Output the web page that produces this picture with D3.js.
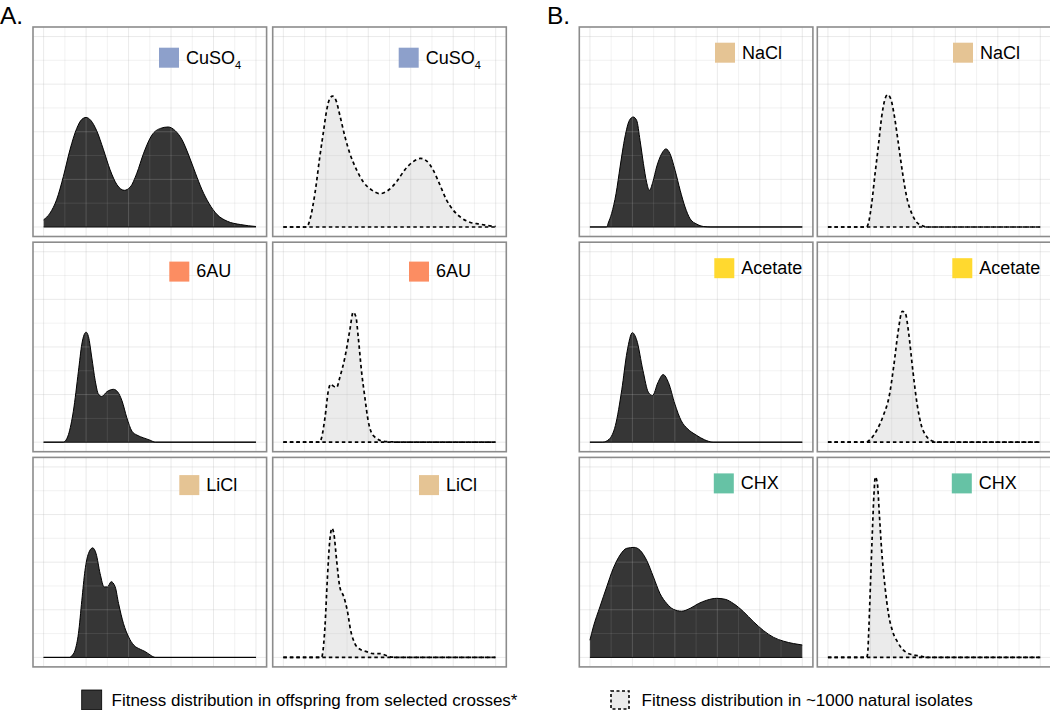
<!DOCTYPE html>
<html><head><meta charset="utf-8">
<script src="https://cdn.jsdelivr.net/npm/d3@7"></script>
<style>body{margin:0;background:#fff}svg{display:block}text{font-family:"Liberation Sans",Arial,Helvetica,sans-serif;fill:#000}</style>
</head><body><svg id="chart" width="1050" height="710"></svg>
<script>
// ---------------- data ----------------
const groupLabels = ["A.", "B."];
const conditionsA = ["CuSO4", "6AU", "LiCl"];
const conditionsB = ["NaCl", "Acetate", "CHX"];
const sources = ["offspring", "natural"];
const xMajor = [0, 0.2, 0.4, 0.6, 0.8, 1];
const xMinor = [0.1, 0.3, 0.5, 0.7, 0.9];
const yMajor = [0, 1, 2, 3, 4];
const yMinor = [0.5, 1.5, 2.5, 3.5];
const legendLabels = ["Fitness distribution in offspring from selected crosses*", "Fitness distribution in ~1000 natural isolates"];

// density curves: [fitness (scaled 0-1), density]
const cuso4Offspring = [[0,0.15],[0.03,0.29],[0.061,0.57],[0.093,1.06],[0.124,1.62],[0.156,2.07],[0.18,2.26],[0.2,2.3],[0.222,2.24],[0.25,2.02],[0.282,1.62],[0.313,1.2],[0.345,0.89],[0.38,0.77],[0.408,0.84],[0.439,1.13],[0.471,1.55],[0.51,1.93],[0.55,2.07],[0.586,2.1],[0.62,2.02],[0.652,1.83],[0.683,1.51],[0.715,1.13],[0.746,0.78],[0.778,0.5],[0.817,0.26],[0.865,0.12],[0.928,0.05],[1,0.01]];
const cuso4Natural = [[0,0],[0.11,0],[0.125,0.15],[0.149,0.71],[0.172,1.48],[0.188,1.97],[0.204,2.45],[0.219,2.7],[0.232,2.75],[0.248,2.66],[0.266,2.35],[0.29,1.9],[0.313,1.55],[0.345,1.2],[0.376,0.95],[0.415,0.78],[0.455,0.7],[0.494,0.77],[0.533,0.95],[0.572,1.2],[0.611,1.37],[0.646,1.44],[0.674,1.39],[0.705,1.2],[0.737,0.89],[0.768,0.57],[0.799,0.36],[0.839,0.19],[0.878,0.1],[0.925,0.06],[0.964,0.03],[1,0.01]];
const au6Offspring = [[0,0],[0.093,0],[0.101,0.02],[0.117,0.16],[0.14,0.65],[0.164,1.49],[0.18,2.06],[0.191,2.26],[0.2,2.31],[0.211,2.22],[0.227,1.77],[0.243,1.29],[0.258,1.01],[0.274,0.96],[0.298,1.06],[0.329,1.11],[0.348,1.06],[0.369,0.87],[0.392,0.51],[0.416,0.23],[0.439,0.15],[0.471,0.09],[0.502,0.04],[0.526,0],[1,0]];
const au6Natural = [[0,0],[0.172,0],[0.18,0.09],[0.196,0.51],[0.212,1.08],[0.223,1.22],[0.235,1.18],[0.251,1.15],[0.266,1.36],[0.29,1.78],[0.313,2.35],[0.329,2.73],[0.342,2.63],[0.353,2.2],[0.368,1.5],[0.384,0.94],[0.4,0.44],[0.415,0.2],[0.439,0.08],[0.47,0.02],[0.502,0.01],[0.54,0],[1,0]];
const liclOffspring = [[0,0],[0.124,0],[0.132,0.03],[0.148,0.15],[0.164,0.5],[0.18,1.2],[0.195,1.83],[0.211,2.18],[0.231,2.3],[0.247,2.18],[0.266,1.76],[0.285,1.48],[0.301,1.48],[0.318,1.59],[0.337,1.48],[0.353,1.13],[0.376,0.71],[0.4,0.43],[0.424,0.26],[0.455,0.17],[0.479,0.12],[0.502,0.05],[0.526,0],[1,0]];
const liclNatural = [[0,0],[0.18,0],[0.185,0.08],[0.196,0.64],[0.207,1.62],[0.219,2.46],[0.229,2.71],[0.238,2.6],[0.251,2.04],[0.266,1.48],[0.285,1.27],[0.301,0.99],[0.317,0.57],[0.337,0.29],[0.361,0.17],[0.392,0.12],[0.423,0.08],[0.455,0.08],[0.478,0.05],[0.502,0.01],[0.55,0],[1,0]];
const naclOffspring = [[0,0],[0.079,0],[0.086,0.08],[0.102,0.28],[0.123,0.7],[0.142,1.26],[0.165,1.89],[0.186,2.24],[0.204,2.31],[0.22,2.24],[0.236,1.82],[0.252,1.33],[0.267,0.94],[0.28,0.77],[0.296,0.94],[0.314,1.26],[0.338,1.54],[0.358,1.64],[0.377,1.54],[0.401,1.19],[0.425,0.77],[0.448,0.42],[0.472,0.17],[0.503,0.06],[0.535,0.01],[0.57,0],[1,0]];
const naclNatural = [[0,0],[0.182,0],[0.19,0.07],[0.206,0.49],[0.222,1.12],[0.237,1.68],[0.253,2.31],[0.269,2.69],[0.281,2.78],[0.296,2.69],[0.311,2.38],[0.332,1.75],[0.352,1.12],[0.371,0.63],[0.395,0.28],[0.418,0.1],[0.442,0.03],[0.465,0],[1,0]];
const acetateOffspring = [[0,0],[0.06,0],[0.09,0.06],[0.12,0.35],[0.15,1.1],[0.175,1.9],[0.2,2.3],[0.22,2.15],[0.25,1.5],[0.275,1.05],[0.295,0.98],[0.32,1.25],[0.345,1.42],[0.37,1.25],[0.4,0.8],[0.43,0.45],[0.46,0.28],[0.5,0.15],[0.54,0.05],[0.58,0],[1,0]];
const acetateNatural = [[0,0],[0.18,0],[0.2,0.06],[0.23,0.25],[0.26,0.55],[0.29,1.0],[0.31,1.6],[0.33,2.3],[0.35,2.75],[0.365,2.7],[0.38,2.3],[0.4,1.5],[0.42,0.8],[0.44,0.35],[0.46,0.15],[0.48,0.05],[0.52,0],[1,0]];
const chxOffspring = [[0,0.36],[0.016,0.64],[0.047,1.06],[0.079,1.48],[0.11,1.87],[0.142,2.15],[0.173,2.29],[0.208,2.31],[0.236,2.25],[0.267,2.04],[0.299,1.69],[0.33,1.34],[0.362,1.13],[0.393,1.01],[0.432,0.97],[0.472,1.03],[0.511,1.13],[0.55,1.2],[0.597,1.24],[0.637,1.22],[0.676,1.13],[0.723,0.96],[0.77,0.75],[0.818,0.56],[0.865,0.42],[0.912,0.34],[0.959,0.29],[1,0.26]];
const chxNatural = [[0,0],[0.182,0],[0.187,0.08],[0.193,0.64],[0.201,1.62],[0.209,2.6],[0.217,3.44],[0.223,3.79],[0.233,3.65],[0.242,3.02],[0.253,2.25],[0.269,1.48],[0.285,0.92],[0.305,0.54],[0.327,0.33],[0.347,0.19],[0.371,0.1],[0.403,0.05],[0.434,0.03],[0.465,0],[1,0]];

const curves = {
  "CuSO4": [cuso4Offspring, cuso4Natural],
  "6AU": [au6Offspring, au6Natural],
  "LiCl": [liclOffspring, liclNatural],
  "NaCl": [naclOffspring, naclNatural],
  "Acetate": [acetateOffspring, acetateNatural],
  "CHX": [chxOffspring, chxNatural]
};

// ---------------- styles / layout ----------------
const swatchColor = {"CuSO4":"#8DA0CB","6AU":"#FC8D62","LiCl":"#E5C494","NaCl":"#E5C494","Acetate":"#FFD92F","CHX":"#66C2A5"};
const legendPos = {"CuSO4":[126,20.7],"6AU":[136.3,19.4],"LiCl":[146.3,17.7],"NaCl":[135.7,15.7],"Acetate":[135,16],"CHX":[134.5,16]};
const groupCols = [[33, 272.7], [579.3, 817.3]];
const groupLabelX = [0, 547];
const rowTops = [27, 242.2, 457.4];
const panelW = 233.6, panelH = 209.5;
const darkFill = "#363636", lightFill = "#EBEBEB";

const svg = d3.select("#chart");
svg.append("rect").attr("width",1050).attr("height",710).attr("fill","#fff");

const groups = [conditionsA, conditionsB];
groups.forEach((conds, gi) => {
  svg.append("text").attr("x", groupLabelX[gi]).attr("y", 24)
    .attr("font-size", 24.5).text(groupLabels[gi]);
  conds.forEach((cond, ri) => {
    sources.forEach((src, ci) => {
      const left = groupCols[gi][ci], top = rowTops[ri];
      const x = d3.scaleLinear().domain([-0.05, 1.05]).range([left, left + panelW]);
      const y = d3.scaleLinear().domain([-0.2, 4.2]).range([top + panelH, top]);
      const g = svg.append("g");
      g.append("rect").attr("x", left).attr("y", top).attr("width", panelW).attr("height", panelH).attr("fill", "#fff");
      const data = curves[cond][ci];
      const area = d3.area().x(d => x(d[0])).y0(y(0)).y1(d => y(d[1])).curve(d3.curveMonotoneX);
      const line = d3.line().x(d => x(d[0])).y(d => y(d[1])).curve(d3.curveMonotoneX);
      const isNat = ci === 1;
      g.append("path").attr("d", area(data)).attr("fill", isNat ? lightFill : darkFill);
      // grid overlay
      const grid = g.append("g").attr("stroke", "#b0b0b0").attr("stroke-opacity", 0.27);
      xMajor.forEach(v => grid.append("line").attr("x1", x(v)).attr("x2", x(v)).attr("y1", top).attr("y2", top + panelH).attr("stroke-width", 1));
      xMinor.forEach(v => grid.append("line").attr("x1", x(v)).attr("x2", x(v)).attr("y1", top).attr("y2", top + panelH).attr("stroke-width", 0.6));
      yMajor.forEach(v => grid.append("line").attr("y1", y(v)).attr("y2", y(v)).attr("x1", left).attr("x2", left + panelW).attr("stroke-width", 1));
      yMinor.forEach(v => grid.append("line").attr("y1", y(v)).attr("y2", y(v)).attr("x1", left).attr("x2", left + panelW).attr("stroke-width", 0.6));
      // outline
      const stroke = g.append("g").attr("fill", "none").attr("stroke", "#000");
      if (isNat) stroke.attr("stroke-width", 1.7).attr("stroke-dasharray", "3.5,3");
      else stroke.attr("stroke-width", 1);
      stroke.append("path").attr("d", line(data));
      stroke.append("path").attr("d", line([[0,0],[1,0]]));
      // border
      g.append("rect").attr("x", left).attr("y", top).attr("width", panelW).attr("height", panelH)
        .attr("fill", "none").attr("stroke", "#8c8c8c").attr("stroke-width", 1.6);
      // legend
      const [lx, ly] = legendPos[cond];
      g.append("rect").attr("x", left + lx).attr("y", top + ly).attr("width", 20).attr("height", 20).attr("fill", swatchColor[cond]);
      const t = g.append("text").attr("x", left + lx + 27).attr("y", top + ly + 15.8).attr("font-size", 18);
      if (cond === "CuSO4") {
        t.append("tspan").text("CuSO");
        t.append("tspan").attr("font-size", 11).attr("dy", 5).text("4");
      } else t.text(cond);
    });
  });
});

// bottom legend
svg.append("rect").attr("x", 81.7).attr("y", 690).attr("width", 20).attr("height", 20).attr("fill", darkFill).attr("stroke", "#000").attr("stroke-width", 0.8);
svg.append("text").attr("x", 111.5).attr("y", 705.5).attr("font-size", 17).text(legendLabels[0]);
svg.append("rect").attr("x", 611).attr("y", 691).attr("width", 18).attr("height", 18).attr("fill", lightFill)
  .attr("stroke", "#000").attr("stroke-width", 1.6).attr("stroke-dasharray", "3,2.5");
svg.append("text").attr("x", 641.5).attr("y", 705.5).attr("font-size", 17).text(legendLabels[1]);
</script></body></html>
